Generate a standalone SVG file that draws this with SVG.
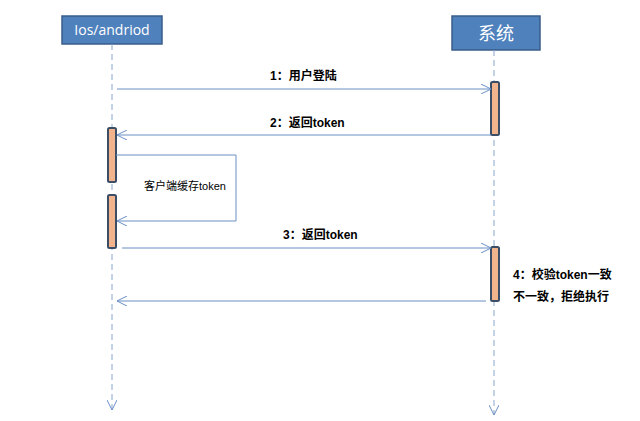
<svg xmlns="http://www.w3.org/2000/svg" width="640" height="421" viewBox="0 0 640 421">
<style>
.hd{fill:#4f81bd;stroke:#385d8a;stroke-width:1.5}
.act{fill:#f2b48c;stroke:#3b4e66;stroke-width:2}
.life{stroke:#8aa6cc;stroke-width:1;stroke-dasharray:6,4;fill:none}
.msg{stroke:#6a8fc4;stroke-width:1;fill:none}
.lb{font-family:"Liberation Sans","Noto Sans CJK SC",sans-serif;font-size:12px;font-weight:bold;fill:#000}
</style>
<defs>
<marker id="oa" viewBox="0 0 10 10" refX="10" refY="5" markerWidth="10" markerHeight="10" markerUnits="userSpaceOnUse" orient="auto"><path d="M0,0 L10,5 L0,10" fill="none" stroke="#6a8fc4" stroke-width="1"/></marker>
</defs>
<rect width="640" height="421" fill="#fff"/>
<g id="client">
<rect class="hd" x="62" y="16" width="100" height="28"/>
<text x="112" y="35" text-anchor="middle" font-family="'Open Sans','Noto Sans',sans-serif" font-size="14" fill="#fff">Ios/andriod</text>
<path class="life" d="M112 44 V410" marker-end="url(#oa)"/>
<rect class="act" x="108" y="128" width="8" height="54" rx="1.5"/>
<rect class="act" x="108" y="195" width="8" height="53" rx="1.5"/>
</g>
<g id="system">
<rect class="hd" x="452" y="16" width="88" height="34"/>
<text x="496" y="40" text-anchor="middle" font-family="'Noto Sans CJK SC',sans-serif" font-size="18" fill="#fff">系统</text>
<path class="life" d="M494 50 V415" marker-end="url(#oa)"/>
<rect class="act" x="491" y="82" width="8" height="53" rx="1.5"/>
<rect class="act" x="491" y="247" width="8" height="54" rx="1.5"/>
</g>
<g id="connectors">
<path class="msg" d="M117 89 H491" marker-end="url(#oa)"/>
<path class="msg" d="M491 135 H117" marker-end="url(#oa)"/>
<path class="msg" d="M116 155 H236 V221 H117" marker-end="url(#oa)"/>
<path class="msg" d="M122 248 H491" marker-end="url(#oa)"/>
<path class="msg" d="M486 301 H117" marker-end="url(#oa)"/>
</g>
<g id="labels">
<text class="lb" x="270" y="80">1：用户登陆</text>
<text class="lb" x="270" y="127">2：返回token</text>
<text x="144" y="190" font-family="'Liberation Sans','Noto Sans CJK SC',sans-serif" font-size="11" fill="#000">客户端缓存token</text>
<text class="lb" x="283" y="239">3：返回token</text>
<text class="lb" x="513" y="279">4：校验token一致</text>
<text class="lb" x="513" y="301">不一致，拒绝执行</text>
</g>
</svg>
